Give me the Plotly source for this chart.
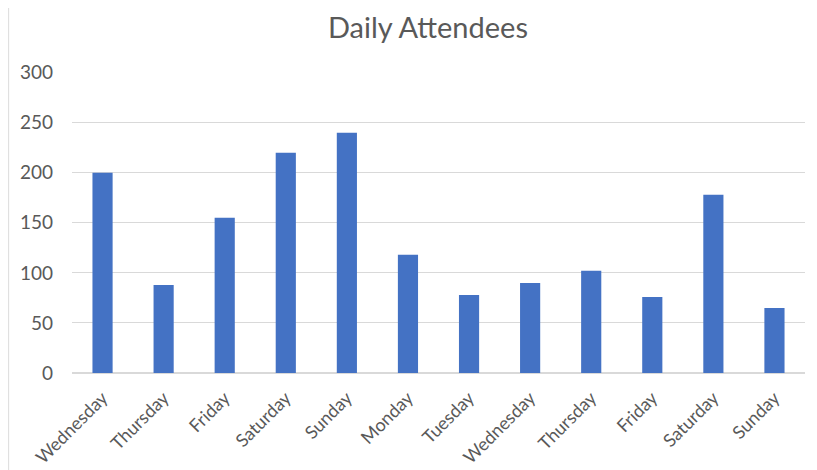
import plotly.graph_objects as go

days = ["Wednesday", "Thursday", "Friday", "Saturday", "Sunday", "Monday",
        "Tuesday", "Wednesday", "Thursday", "Friday", "Saturday", "Sunday"]
attendees = [200, 88, 155, 220, 240, 118, 78, 90, 102, 76, 178, 65]
y_ticks = [0, 50, 100, 150, 200, 250, 300]

x_pos = list(range(len(days)))

fig = go.Figure(go.Bar(x=x_pos, y=attendees, marker=dict(color="#4472C4", line=dict(width=0)),
                       width=0.33))

fig.update_layout(
    width=817, height=470,
    margin=dict(l=64, r=20, t=64, b=105, autoexpand=False),
    paper_bgcolor="white", plot_bgcolor="white",
    title=dict(text="Daily Attendees", x=0.514, xanchor="center", y=0.957, yanchor="middle",
               font=dict(family="Lato", size=29, color="#595959")),
    font=dict(family="Lato", color="#595959", size=19),
    showlegend=False,
    xaxis=dict(tickmode="array", tickvals=x_pos, ticktext=days, tickangle=-45,
               range=[-0.5, len(days) - 0.5], showgrid=False, showline=False,
               zeroline=False, ticks="", automargin=False, ticklabelstandoff=10,
               tickfont=dict(family="Lato", size=18, color="#595959")),
    yaxis=dict(tickmode="array", tickvals=y_ticks, range=[0, 300.6], showgrid=True,
               gridcolor="#D9D9D9", gridwidth=1, zeroline=True, zerolinecolor="#D9D9D9",
               showline=False, ticks="", ticklabelstandoff=18, automargin=False,
               tickfont=dict(family="Lato", size=19, color="#595959")),
    shapes=[
        dict(type="line", xref="paper", yref="paper", x0=-0.0868, x1=-0.0868, y0=-0.5, y1=1.3,
             line=dict(color="#E0E0E0", width=1.5), layer="below"),
    ],
)

fig.write_html("out.html")
